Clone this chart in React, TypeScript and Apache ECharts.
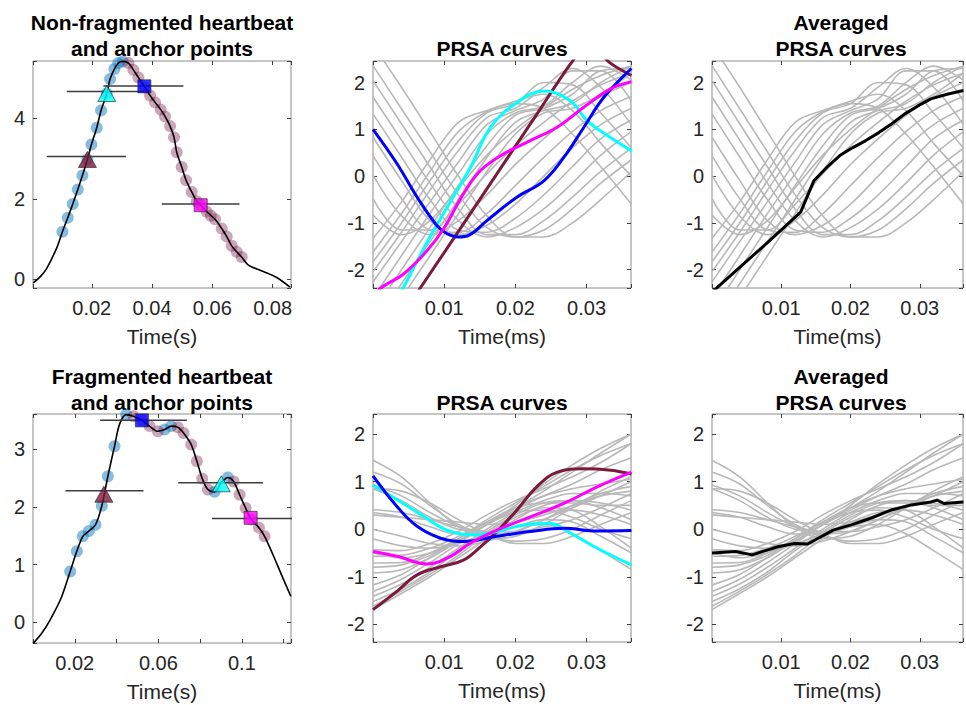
import React, { useEffect, useRef } from 'react';
import * as echarts from 'echarts';

const FONT = '"Liberation Sans", Arial, Helvetica, sans-serif';

// ---------- Data ----------
// Heartbeat (non-fragmented), time in s
const hbTopT = [0.0006, 0.003, 0.00506, 0.00838, 0.01026, 0.01203, 0.01369, 0.01535, 0.01689, 0.01855, 0.01988, 0.02165, 0.02308, 0.02497, 0.02607, 0.0275, 0.02883, 0.0303, 0.03215, 0.03381, 0.03547, 0.03768, 0.03934, 0.041, 0.04288, 0.04431, 0.04597, 0.0473, 0.04818, 0.04984, 0.05128, 0.05316, 0.05482, 0.05614, 0.05813, 0.0609, 0.06311, 0.06477, 0.06642, 0.06808, 0.06974, 0.07195, 0.07693, 0.08135, 0.0858];
const hbTopV = [-0.09, 0.07, 0.27, 0.78, 1.18, 1.53, 1.87, 2.23, 2.58, 2.98, 3.35, 3.77, 4.2, 4.62, 4.98, 5.23, 5.38, 5.42, 5.38, 5.21, 5.02, 4.77, 4.57, 4.4, 4.22, 4.05, 3.81, 3.53, 3.16, 2.79, 2.46, 2.17, 1.94, 1.84, 1.68, 1.49, 1.26, 1.06, 0.83, 0.68, 0.55, 0.35, 0.19, 0.04, -0.2];
const upDotsTopT = [0.01026, 0.01203, 0.01369, 0.01535, 0.01689, 0.01855, 0.01988, 0.02165, 0.02308, 0.02497, 0.02607, 0.0275, 0.02883, 0.0303];
const upDotsTopV = [1.18, 1.53, 1.87, 2.23, 2.58, 2.98, 3.35, 3.77, 4.2, 4.62, 4.98, 5.23, 5.38, 5.42];
const downDotsTopT = [0.03215, 0.03381, 0.03547, 0.03768, 0.03934, 0.041, 0.04288, 0.04431, 0.04597, 0.0473, 0.04818, 0.04984, 0.05128, 0.05316, 0.05482, 0.05614, 0.05813, 0.0595, 0.0609, 0.06311, 0.06477, 0.06642, 0.06808, 0.06974];
const downDotsTopV = [5.38, 5.21, 5.02, 4.77, 4.57, 4.4, 4.22, 4.05, 3.81, 3.53, 3.16, 2.79, 2.46, 2.17, 1.94, 1.84, 1.68, 1.58, 1.49, 1.26, 1.06, 0.83, 0.68, 0.55];

// Heartbeat (fragmented)
const hbBotT = [0.0, 0.004, 0.00788, 0.01347, 0.01778, 0.02097, 0.02385, 0.02672, 0.02992, 0.03295, 0.03583, 0.03902, 0.04141, 0.0446, 0.04812, 0.05227, 0.05578, 0.05977, 0.06297, 0.06616, 0.06935, 0.07207, 0.07574, 0.07846, 0.08101, 0.08373, 0.08692, 0.0901, 0.09331, 0.09602, 0.0989, 0.10177, 0.10449, 0.10816, 0.11088, 0.11487, 0.11886, 0.1234];
const hbBotV = [-0.37, -0.2, 0.02, 0.42, 0.88, 1.23, 1.49, 1.58, 1.69, 2.02, 2.53, 3.05, 3.43, 3.6, 3.57, 3.5, 3.4, 3.31, 3.34, 3.4, 3.38, 3.28, 3.08, 2.79, 2.49, 2.3, 2.26, 2.42, 2.51, 2.44, 2.21, 1.98, 1.78, 1.64, 1.49, 1.17, 0.83, 0.45];
const upDotsBotT = [0.01778, 0.02097, 0.02385, 0.02672, 0.02992, 0.03295, 0.03583, 0.03902, 0.0446, 0.06297, 0.06616, 0.08692, 0.09331];
const upDotsBotV = [0.88, 1.23, 1.49, 1.58, 1.69, 2.02, 2.53, 3.05, 3.6, 3.34, 3.4, 2.26, 2.51];
const downDotsBotT = [0.04812, 0.05227, 0.05578, 0.05977, 0.06935, 0.07207, 0.07574, 0.07846, 0.08101, 0.08373, 0.09602, 0.0989, 0.10177, 0.10449, 0.10816, 0.11088];
const downDotsBotV = [3.57, 3.5, 3.4, 3.31, 3.38, 3.28, 3.08, 2.79, 2.49, 2.3, 2.44, 2.21, 1.98, 1.78, 1.64, 1.49];

// Anchor points: [t, v, barStart, barEnd, barV]
const anchorsTop = {
  maroonTri: [0.01855, 2.98, 0.00506, 0.03138, 3.05],
  cyanTri: [0.02497, 4.62, 0.0117, 0.0377, 4.67],
  blueSq: [0.03745, 4.8, 0.02385, 0.05038, 4.81],
  magentaSq: [0.05614, 1.84, 0.04322, 0.069, 1.87],
};
const anchorsBot = {
  maroonTri: [0.03391, 2.22, 0.01555, 0.05291, 2.28],
  cyanTri: [0.09012, 2.4, 0.06951, 0.11006, 2.42],
  blueSq: [0.05211, 3.5, 0.03215, 0.07367, 3.5],
  magentaSq: [0.10417, 1.81, 0.08564, 0.1240, 1.8],
};

// PRSA time grid (s) used by the gray curves
const prsaT = [0, 0.004, 0.008, 0.012, 0.016, 0.02, 0.024, 0.028, 0.032, 0.0363];

const topGray = [
  [2.8, 1.9, 0.95, 0.0, -0.85, -1.3, -1.3, -1.0, -0.5, 0.1],
  [2.36, 1.44, 0.52, -0.4, -1.1, -1.3, -1.15, -0.7, -0.15, 0.35],
  [2.04, 1.12, 0.2, -0.7, -1.25, -1.25, -0.95, -0.45, 0.1, 0.6],
  [1.69, 0.77, -0.15, -0.95, -1.3, -1.1, -0.7, -0.15, 0.45, 0.95],
  [1.33, 0.41, -0.5, -1.15, -1.2, -0.9, -0.4, 0.2, 0.8, 1.2],
  [0.83, -0.09, -0.95, -1.25, -1.05, -0.6, 0.0, 0.6, 1.1, 1.45],
  [0.44, -0.48, -1.15, -1.2, -0.8, -0.2, 0.4, 0.95, 1.4, 1.7],
  [0.02, -0.85, -1.25, -0.95, -0.4, 0.25, 0.8, 1.3, 1.7, 2.0],
  [-0.48, -1.15, -1.15, -0.6, 0.05, 0.65, 1.15, 1.6, 1.95, 2.2],
  [-0.83, -1.25, -0.95, -0.25, 0.45, 1.0, 1.45, 1.85, 2.15, 2.35],
  [-1.33, -0.55, 0.35, 1.15, 1.4, 1.55, 1.45, 0.9, 0.2, -0.6],
  [-1.62, -0.8, 0.1, 0.95, 1.38, 1.6, 1.75, 1.4, 0.7, 0.0],
  [-1.83, -1.0, -0.1, 0.75, 1.35, 1.55, 2.0, 1.95, 1.35, 0.6],
  [-2.04, -1.2, -0.3, 0.55, 1.25, 1.45, 1.9, 2.3, 1.9, 1.1],
  [-2.26, -1.4, -0.55, 0.3, 1.1, 1.4, 1.65, 2.25, 2.25, 1.6],
  [-2.6, -1.7, -0.8, 0.05, 0.9, 1.35, 1.5, 2.0, 2.35, 2.05],
  [-2.9, -2.0, -1.1, -0.2, 0.65, 1.3, 1.45, 1.75, 2.25, 2.3],
  [-3.2, -2.3, -1.4, -0.5, 0.4, 1.15, 1.4, 1.55, 2.0, 2.35],
  [-3.5, -2.6, -1.7, -0.8, 0.1, 0.9, 1.35, 1.45, 1.75, 2.2],
];

const bottomGray = [
  [1.45, 1.1, 0.55, 0.05, -0.2, -0.15, 0.1, 0.45, 0.8, 1.1],
  [1.2, 0.95, 0.5, 0.1, -0.1, -0.05, 0.2, 0.5, 0.75, 0.9],
  [0.93, 0.7, 0.35, 0.05, -0.15, -0.25, -0.2, 0.0, 0.3, 0.6],
  [0.85, 0.8, 0.55, 0.2, -0.1, -0.3, -0.3, -0.15, 0.1, 0.35],
  [0.85, 0.6, 0.25, 0.0, -0.05, 0.05, 0.1, -0.1, -0.45, -0.85],
  [0.41, 0.35, 0.2, 0.05, -0.05, -0.05, 0.05, 0.2, 0.45, 0.75],
  [0.3, 0.25, 0.2, 0.15, 0.1, 0.15, 0.3, 0.5, 0.7, 0.8],
  [0.35, 0.25, 0.05, -0.1, -0.1, 0.05, 0.2, 0.15, -0.15, -0.5],
  [-0.43, -0.45, -0.3, -0.05, 0.3, 0.6, 0.85, 1.1, 1.4, 1.8],
  [-0.57, -0.55, -0.4, -0.15, 0.15, 0.45, 0.7, 0.85, 0.95, 1.05],
  [-0.71, -0.7, -0.5, -0.2, 0.15, 0.45, 0.55, 0.55, 0.5, 0.5],
  [-0.92, -0.85, -0.6, -0.25, 0.1, 0.35, 0.4, 0.25, 0.0, -0.2],
  [-0.5, -0.6, -0.5, -0.25, 0.1, 0.5, 0.95, 1.35, 1.7, 2.0],
  [-0.8, -0.75, -0.55, -0.2, 0.2, 0.55, 0.9, 1.25, 1.55, 1.8],
  [-1.17, -0.95, -0.6, -0.25, 0.1, 0.4, 0.7, 0.95, 1.25, 1.5],
  [-1.31, -1.05, -0.7, -0.3, 0.1, 0.45, 0.8, 1.2, 1.6, 2.0],
  [-1.41, -1.15, -0.8, -0.4, 0.0, 0.35, 0.6, 0.75, 0.75, 0.7],
  [-1.52, -1.25, -0.9, -0.45, -0.05, 0.3, 0.55, 0.6, 0.45, 0.2],
  [-1.62, -1.3, -0.95, -0.55, -0.1, 0.25, 0.45, 0.4, 0.05, -0.4],
  [-1.69, -1.35, -1.0, -0.6, -0.2, 0.2, 0.5, 0.6, 0.55, 0.4],
  [0.0, -0.15, -0.3, -0.35, -0.25, -0.05, 0.2, 0.45, 0.7, 1.0],
  [-0.2, -0.35, -0.4, -0.3, -0.1, 0.15, 0.35, 0.4, 0.3, 0.1],
];

// Highlighted PRSA curves, top row
const topBlueT = [0, 0.0034, 0.0062, 0.009, 0.0104, 0.012, 0.0135, 0.016, 0.0202, 0.024, 0.0268, 0.0296, 0.0324, 0.0363];
const topBlueV = [1.0, 0.26, -0.45, -1.06, -1.23, -1.3, -1.26, -0.95, -0.45, -0.1, 0.4, 1.04, 1.68, 2.3];
const topCyanT = [0.0025, 0.0042, 0.008, 0.0104, 0.0137, 0.0165, 0.0202, 0.024, 0.0277, 0.0301, 0.0333, 0.0363];
const topCyanV = [-2.9, -2.4, -1.3, -0.67, 0.19, 1.04, 1.57, 1.82, 1.61, 1.18, 0.83, 0.54];
const topMagentaT = [0, 0.001, 0.0043, 0.0076, 0.0099, 0.0127, 0.0151, 0.0183, 0.0221, 0.0258, 0.0296, 0.0333, 0.0363];
const topMagentaV = [-2.6, -2.4, -2.09, -1.59, -1.13, -0.38, 0.12, 0.47, 0.76, 1.04, 1.47, 1.86, 2.02];
const topMaroonT = [0.003, 0.0066, 0.012, 0.0174, 0.023, 0.0279, 0.0305, 0.0332, 0.0363];
const topMaroonV = [-3.2, -2.4, -1.18, 0.05, 1.32, 2.43, 2.85, 2.43, 2.15];
const topAvgT = [0, 0.004, 0.008, 0.0128, 0.0147, 0.01658, 0.01845, 0.02033, 0.0222, 0.02409, 0.02596, 0.02784, 0.02972, 0.0316, 0.03395, 0.0363];
const topAvgV = [-2.48, -1.95, -1.42, -0.77, -0.1, 0.19, 0.44, 0.61, 0.76, 0.93, 1.12, 1.33, 1.5, 1.65, 1.75, 1.83];

// Highlighted PRSA curves, bottom row
const botBlueT = [0, 0.0034, 0.0062, 0.0095, 0.0127, 0.0174, 0.0221, 0.0268, 0.0315, 0.0363];
const botBlueV = [1.12, 0.47, 0.06, -0.19, -0.26, -0.15, -0.05, 0.02, -0.04, -0.03];
const botCyanT = [0, 0.0034, 0.0071, 0.0104, 0.0141, 0.0174, 0.0212, 0.0249, 0.0277, 0.0315, 0.0363];
const botCyanV = [0.93, 0.62, 0.27, -0.02, -0.12, -0.05, 0.09, 0.12, -0.08, -0.4, -0.75];
const botMagentaT = [0, 0.0034, 0.0076, 0.0109, 0.0137, 0.0174, 0.0221, 0.0268, 0.0315, 0.0363];
const botMagentaV = [-0.47, -0.57, -0.73, -0.57, -0.29, -0.02, 0.26, 0.54, 0.89, 1.2];
const botMaroonT = [0, 0.0034, 0.0062, 0.0095, 0.0127, 0.0151, 0.0174, 0.0202, 0.023, 0.0259, 0.0296, 0.0334, 0.0363];
const botMaroonV = [-1.69, -1.3, -0.96, -0.79, -0.65, -0.37, -0.05, 0.4, 0.89, 1.2, 1.27, 1.24, 1.16];
const botAvgT = [0, 0.0034, 0.0058, 0.0095, 0.0119, 0.0138, 0.0175, 0.0203, 0.0231, 0.026, 0.0288, 0.0316, 0.0325, 0.0335, 0.0363];
const botAvgV = [-0.5, -0.47, -0.54, -0.37, -0.3, -0.31, -0.02, 0.1, 0.24, 0.41, 0.51, 0.57, 0.61, 0.54, 0.57];

const titlesTop = [['Non-fragmented heartbeat', 'and anchor points'], ['PRSA curves'], ['Averaged', 'PRSA curves']];
const titlesBot = [['Fragmented heartbeat', 'and anchor points'], ['PRSA curves'], ['Averaged', 'PRSA curves']];

// ---------- Colors / styles ----------
const C_MAROON = '#7b1a3c';
const C_CYAN = '#00ffff';
const C_BLUE = '#0000ff';
const C_MAGENTA = '#ff00ff';
const C_GRAY = '#b8b8b8';
const C_TEXT = '#262626';

const zip = (t: number[], v: number[]) => t.map((x, i) => [x, v[i]]);

type Panel = {
  grid: any; x: number[]; y: number[]; xSplit: number; ySplit: number;
  xStep: number; yStep: number; xOdd?: boolean; name: string;
};

const panels: Panel[] = [
  { grid: { left: 33, top: 61, width: 258, height: 227 }, x: [0.0005, 0.0861], y: [-0.22, 5.43], xSplit: 4, ySplit: 3, xStep: 0.02, yStep: 2, name: 'Time(s)' },
  { grid: { left: 373, top: 61, width: 258, height: 227 }, x: [0, 0.03624], y: [-2.39, 2.46], xSplit: 4, ySplit: 5, xStep: 0.01, yStep: 1, name: 'Time(ms)' },
  { grid: { left: 712, top: 61, width: 258, height: 227 }, x: [0, 0.03624], y: [-2.39, 2.46], xSplit: 4, ySplit: 5, xStep: 0.01, yStep: 1, name: 'Time(ms)' },
  { grid: { left: 33, top: 414, width: 258, height: 229 }, x: [0, 0.1235], y: [-0.36, 3.61], xSplit: 6, ySplit: 4, xStep: 0.02, yStep: 1, xOdd: true, name: 'Time(s)' },
  { grid: { left: 373, top: 414, width: 258, height: 228 }, x: [0, 0.03624], y: [-2.37, 2.42], xSplit: 4, ySplit: 5, xStep: 0.01, yStep: 1, name: 'Time(ms)' },
  { grid: { left: 712, top: 414, width: 258, height: 228 }, x: [0, 0.03624], y: [-2.37, 2.42], xSplit: 4, ySplit: 5, xStep: 0.01, yStep: 1, name: 'Time(ms)' },
];

const fmtStep = (step: number, allowZero: boolean, oddOnly?: boolean) => (v: number) => {
  const r = Math.round(v / step);
  if (Math.abs(v - r * step) > step * 1e-3) return '';
  if (!allowZero && r === 0) return '';
  if (oddOnly && r % 2 === 0) return '';
  return String(Number((r * step).toFixed(4)));
};

function buildOption() {
  const grid: any[] = [];
  const xAxis: any[] = [];
  const yAxis: any[] = [];
  const tick = { show: true, inside: true, length: 4, lineStyle: { color: '#404040', width: 1 } };
  const noLine = { show: false, onZero: false };
  panels.forEach((p, i) => {
    grid.push({ ...p.grid, show: true, borderColor: '#8c8c8c', borderWidth: 1, backgroundColor: 'transparent' });
    const baseX = { type: 'value', gridIndex: i, min: p.x[0], max: p.x[1], splitNumber: p.xSplit, splitLine: { show: false }, axisLine: noLine, axisTick: tick };
    const baseY = { type: 'value', gridIndex: i, min: p.y[0], max: p.y[1], splitNumber: p.ySplit, splitLine: { show: false }, axisLine: noLine, axisTick: tick };
    xAxis.push({
      ...baseX, position: 'bottom',
      axisLabel: { show: true, margin: 10, color: C_TEXT, fontSize: 20, fontFamily: FONT, formatter: fmtStep(p.xStep, false, p.xOdd) },
      name: p.name, nameLocation: 'middle', nameGap: 38,
      nameTextStyle: { color: C_TEXT, fontSize: 21, fontFamily: FONT },
    });
    xAxis.push({ ...baseX, position: 'top', axisLabel: { show: false } });
    yAxis.push({
      ...baseY, position: 'left',
      axisLabel: { show: true, margin: 8, color: C_TEXT, fontSize: 20, fontFamily: FONT, formatter: fmtStep(p.yStep, true) },
    });
    yAxis.push({ ...baseY, position: 'right', axisLabel: { show: false } });
  });

  const series: any[] = [];
  const line = (g: number, data: number[][], color: string, width: number, smooth: any) => {
    series.push({
      type: 'line', xAxisIndex: g * 2, yAxisIndex: g * 2, data, symbol: 'none', showSymbol: false,
      smooth, clip: true, silent: true, lineStyle: { color, width }, animation: false,
    });
  };
  const dots = (g: number, data: number[][], color: string) => {
    series.push({
      type: 'scatter', xAxisIndex: g * 2, yAxisIndex: g * 2, data, symbol: 'circle', symbolSize: 12,
      itemStyle: { color }, silent: true, animation: false,
    });
  };
  const marker = (g: number, a: number[], shape: string, color: string) => {
    line(g, [[a[2], a[4]], [a[3], a[4]]], '#3d3d3d', 1.5, false);
    series.push({
      type: 'scatter', xAxisIndex: g * 2, yAxisIndex: g * 2, data: [[a[0], a[1]]], symbol: shape,
      symbolSize: shape === 'triangle' ? [18, 16] : 13,
      itemStyle: { color, borderColor: '#222', borderWidth: 0.8 }, silent: true, animation: false, z: 3,
    });
  };

  // Panel 0: non-fragmented heartbeat
  dots(0, zip(upDotsTopT, upDotsTopV), 'rgba(0,114,189,0.6)');
  dots(0, zip(downDotsTopT, downDotsTopV), 'rgba(128,30,80,0.5)');
  line(0, zip(hbTopT, hbTopV), '#000', 1.6, 0.3);
  marker(0, anchorsTop.maroonTri, 'triangle', C_MAROON);
  marker(0, anchorsTop.cyanTri, 'triangle', C_CYAN);
  marker(0, anchorsTop.blueSq, 'rect', C_BLUE);
  marker(0, anchorsTop.magentaSq, 'rect', C_MAGENTA);

  // Panels 1/2
  topGray.forEach((g) => { line(1, zip(prsaT, g), C_GRAY, 1.6, 0.35); line(2, zip(prsaT, g), C_GRAY, 1.6, 0.35); });
  line(1, zip(topMaroonT, topMaroonV), C_MAROON, 3, 0.3);
  line(1, zip(topCyanT, topCyanV), C_CYAN, 3, 0.4);
  line(1, zip(topBlueT, topBlueV), C_BLUE, 3, 0.4);
  line(1, zip(topMagentaT, topMagentaV), C_MAGENTA, 3, 0.4);
  line(2, zip(topAvgT, topAvgV), '#000', 3, false);

  // Panel 3: fragmented heartbeat
  dots(3, zip(upDotsBotT, upDotsBotV), 'rgba(0,114,189,0.6)');
  dots(3, zip(downDotsBotT, downDotsBotV), 'rgba(128,30,80,0.5)');
  line(3, zip(hbBotT, hbBotV), '#000', 1.6, 0.3);
  marker(3, anchorsBot.maroonTri, 'triangle', C_MAROON);
  marker(3, anchorsBot.blueSq, 'rect', C_BLUE);
  marker(3, anchorsBot.cyanTri, 'triangle', C_CYAN);
  marker(3, anchorsBot.magentaSq, 'rect', C_MAGENTA);

  // Panels 4/5
  bottomGray.forEach((g) => { line(4, zip(prsaT, g), C_GRAY, 1.6, 0.35); line(5, zip(prsaT, g), C_GRAY, 1.6, 0.35); });
  line(4, zip(botMaroonT, botMaroonV), C_MAROON, 3, 0.4);
  line(4, zip(botCyanT, botCyanV), C_CYAN, 3, 0.4);
  line(4, zip(botBlueT, botBlueV), C_BLUE, 3, 0.4);
  line(4, zip(botMagentaT, botMagentaV), C_MAGENTA, 3, 0.4);
  line(5, zip(botAvgT, botAvgV), '#000', 3, false);

  // Titles
  const graphic: any[] = [];
  const centers = [162, 502, 841];
  const addTitle = (lines: string[], cx: number, lastY: number) => {
    lines.forEach((txt, k) => {
      const y = lastY - (lines.length - 1 - k) * 26;
      graphic.push({
        type: 'text', x: cx, y, silent: true,
        style: { text: txt, fill: '#000', fontSize: 21, fontWeight: 'bold', fontFamily: FONT, align: 'center', verticalAlign: 'middle', textAlign: 'center', textVerticalAlign: 'middle' },
      });
    });
  };
  titlesTop.forEach((l, i) => addTitle(l, centers[i], 48));
  titlesBot.forEach((l, i) => addTitle(l, centers[i], 402));

  return { animation: false, grid, xAxis, yAxis, series, graphic, backgroundColor: '#fff' };
}

export default function App() {
  const ref = useRef<HTMLDivElement>(null);
  useEffect(() => {
    if (!ref.current) return;
    const chart = echarts.init(ref.current, undefined, { renderer: 'svg', width: 966, height: 705 });
    chart.setOption(buildOption() as any);
    return () => chart.dispose();
  }, []);
  return <div ref={ref} style={{ position: 'absolute', left: 0, top: 0, width: 966, height: 705, background: '#fff' }} />;
}
